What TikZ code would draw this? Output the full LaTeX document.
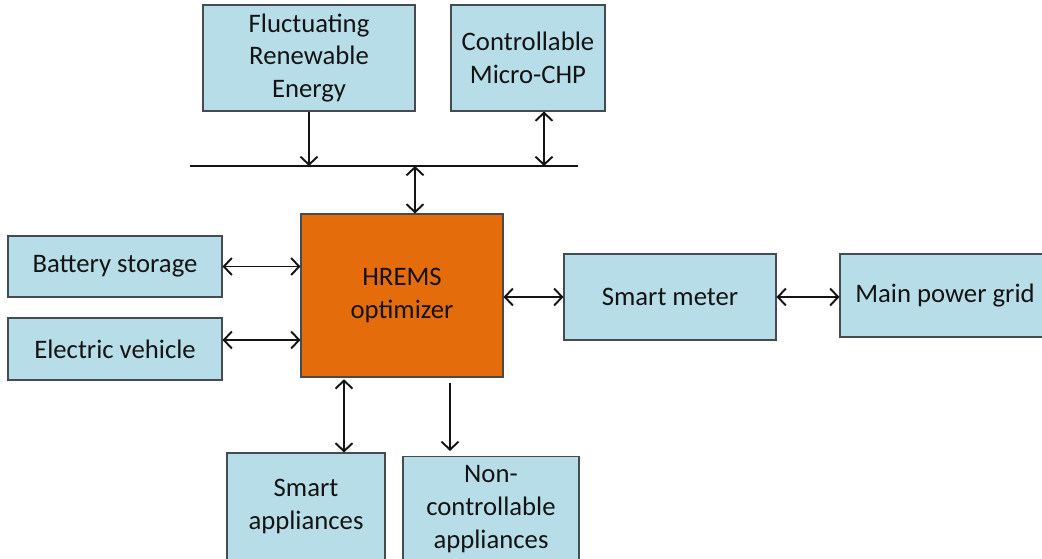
\documentclass[tikz,border=0pt]{standalone}
\usepackage{fontspec}
\setmainfont{Carlito}
\usepackage{tikz}
\usetikzlibrary{arrows.meta, positioning, calc}
\definecolor{myblue}{RGB}{183,221,232}
\definecolor{myorange}{RGB}{228,108,10}
\definecolor{myframe}{RGB}{70,75,80}
\definecolor{mydark}{RGB}{20,20,20}
\tikzset{
  box/.style={rectangle, draw=myframe, fill=myblue, align=center,
    font=\fontsize{15.2}{18.6}\selectfont, text=mydark, line width=0.6pt},
  hbox/.style={rectangle, draw=myframe, fill=myorange, align=center,
    font=\fontsize{15.2}{18.6}\selectfont, text=mydark, line width=0.6pt},
  arrow/.style={-{Straight Barb[length=1.6mm, width=3.4mm]}, line width=1.1pt, color=mydark},
  dblarrow/.style={{Straight Barb[length=1.6mm, width=3.4mm]}-{Straight Barb[length=1.6mm, width=3.4mm]}, line width=1.1pt, color=mydark},
  line/.style={line width=1.1pt, color=mydark}
}
\begin{document}
\begin{tikzpicture}
  \useasboundingbox (0,0) rectangle (20.84,11.16);
  % Sources on top
  \node[box, minimum width=4.24cm, minimum height=2.12cm] (fre) at (6.18, 10.00) {Fluctuating\\Renewable\\Energy};
  \node[box, minimum width=3.08cm, minimum height=2.12cm] (chp) at (10.56, 10.00) {Controllable\\Micro-CHP};

  % Bus
  \coordinate (busL) at (3.80, 7.84);
  \coordinate (busR) at (11.56, 7.84);

  % Optimizer
  \node[hbox, minimum width=4.04cm, minimum height=3.26cm] (hrems) at (8.04, 5.25) {HREMS\\optimizer};

  % Left side
  \node[box, minimum width=4.28cm, minimum height=1.22cm] (bat) at (2.30, 5.83) {Battery storage};
  \node[box, minimum width=4.28cm, minimum height=1.24cm] (ev) at (2.30, 4.18) {Electric vehicle};

  % Right side
  \node[box, minimum width=4.24cm, minimum height=1.72cm] (meter) at (13.40, 5.22) {Smart meter};
  \node[box, minimum width=4.20cm, minimum height=1.66cm] (grid) at (18.90, 5.25) {Main power grid};

  % Loads
  \node[box, minimum width=3.16cm, minimum height=2.14cm] (smart) at (6.12, 1.03) {Smart\\appliances};
  \node[box, minimum width=3.52cm, minimum height=2.10cm] (nonc) at (9.82, 0.98) {Non-\\controllable\\appliances};

  % Paths
  \draw[line] (busL) -- (busR);
  \draw[arrow] (fre.south) -- (fre.south |- busL);
  \draw[dblarrow] ([xshift=0.32cm]chp.south) -- ([xshift=0.32cm]chp.south |- busL);
  \draw[dblarrow] ([xshift=0.26cm]hrems.north |- busL) -- ([xshift=0.26cm]hrems.north);
  \draw[dblarrow] (bat.east) -- (bat.east -| hrems.west);
  \draw[dblarrow] ([yshift=0.18cm]ev.east) -- ([yshift=0.18cm]ev.east -| hrems.west);
  \draw[dblarrow] (hrems.east |- meter.west) -- (meter.west);
  \draw[dblarrow] (meter.east) -- (meter.east -| grid.west);
  \draw[dblarrow, shorten <=1pt] ([xshift=-1.16cm]hrems.south) -- ([xshift=-1.16cm]hrems.south |- smart.north);
  \draw[arrow, shorten >=0.1cm] ([xshift=0.96cm, yshift=-0.1cm]hrems.south) -- ([xshift=0.96cm]hrems.south |- nonc.north);
\end{tikzpicture}
\end{document}
